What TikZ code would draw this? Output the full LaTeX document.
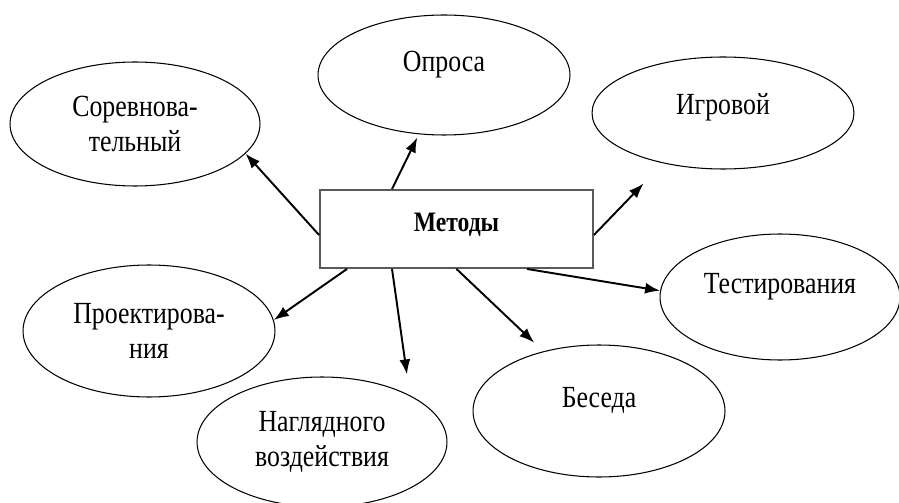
\documentclass[tikz,border=0pt]{standalone}
\usepackage{fontspec}
\setmainfont{Liberation Serif}[FakeStretch=0.84]
\usetikzlibrary{shapes.geometric,arrows.meta}

\begin{document}
\begin{tikzpicture}[x=0.02cm,y=-0.02cm,
  oval/.style={draw,ellipse,line width=0.6pt,inner sep=0pt,minimum width=5cm,minimum height=2.5cm,align=center,font=\fontsize{17.5}{20}\selectfont},
  single/.style={oval,text depth=0.55cm},
  arr/.style={line width=1.1pt,-{Latex[length=0.3cm,width=0.22cm]}}]
\useasboundingbox (0,0) rectangle (899,503);
\node[draw=gray!70!black,line width=1.1pt,minimum width=5.46cm,minimum height=1.56cm,text depth=0.28cm,font=\fontsize{16}{19}\selectfont\bfseries] (m) at (456.5,229) {Методы};
\node[oval,minimum height=2.48cm] (sor) at (135,124) {Соревнова-\\тельный};
\node[single,minimum width=5.04cm,minimum height=2.4cm] (opr) at (444,75) {Опроса};
\node[single,text depth=0.35cm,minimum width=5.24cm,minimum height=2.24cm] (igr) at (723,113) {Игровой};
\node[single,minimum width=4.8cm,minimum height=2.52cm] (tes) at (780,297) {Тестирования};
\node[oval,minimum width=5.04cm,minimum height=2.64cm] (pro) at (149,331) {Проектирова-\\ния};
\node[oval,minimum height=2.6cm] (nag) at (322,442) {Наглядного\\воздействия};
\node[single,minimum width=5.04cm,minimum height=2.64cm] (bes) at (599,411) {Беседа};
\draw[arr] ([yshift=-0.12cm]m.west) -- (sor.-15);
\draw[arr,shorten >=0.07cm] ([xshift=-1.29cm]m.north) -- (opr.247);
\draw[arr,shorten >=0.56cm] ([yshift=-0.12cm]m.east) -- (igr.220);
\draw[arr] ([xshift=1.41cm]m.south) -- (tes.177);
\draw[arr] ([xshift=-2.19cm]m.south) -- (pro.5);
\draw[arr,shorten >=0.42cm] ([xshift=-1.29cm]m.south) -- (nag.28);
\draw[arr,shorten >=0.25cm] (m.south) -- (bes.133);
\end{tikzpicture}
\end{document}
